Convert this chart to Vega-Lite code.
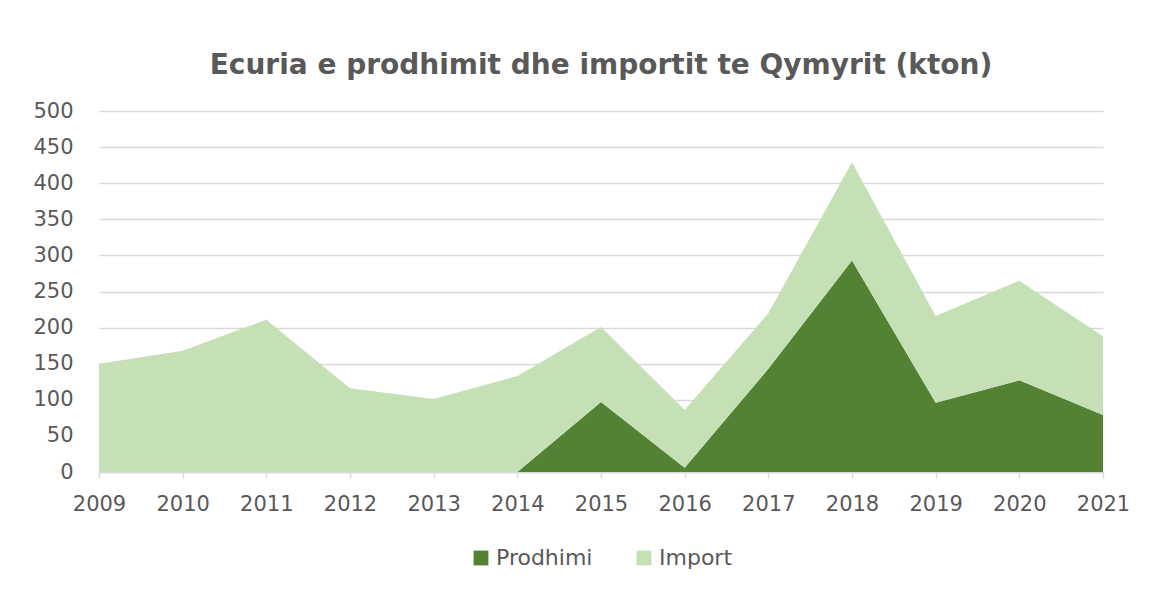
{
  "$schema": "https://vega.github.io/schema/vega-lite/v6.json",
  "width": 1004,
  "height": 361,
  "autosize": {"type": "none"},
  "padding": {"left": 99, "top": 111, "right": 49, "bottom": 117},
  "background": "white",
  "title": {
    "text": "Ecuria e prodhimit dhe importit te Qymyrit (kton)",
    "font": "DejaVu Sans",
    "fontSize": 28,
    "fontWeight": "bold",
    "color": "#595959",
    "anchor": "middle",
    "offset": 20
  },
  "data": {
    "values": [
      {"year": "2009", "series": "Prodhimi", "value": 0},
      {"year": "2010", "series": "Prodhimi", "value": 0},
      {"year": "2011", "series": "Prodhimi", "value": 0},
      {"year": "2012", "series": "Prodhimi", "value": 0},
      {"year": "2013", "series": "Prodhimi", "value": 0},
      {"year": "2014", "series": "Prodhimi", "value": 0},
      {"year": "2015", "series": "Prodhimi", "value": 97},
      {"year": "2016", "series": "Prodhimi", "value": 6},
      {"year": "2017", "series": "Prodhimi", "value": 143},
      {"year": "2018", "series": "Prodhimi", "value": 293},
      {"year": "2019", "series": "Prodhimi", "value": 96},
      {"year": "2020", "series": "Prodhimi", "value": 127},
      {"year": "2021", "series": "Prodhimi", "value": 79},
      {"year": "2009", "series": "Import", "value": 150},
      {"year": "2010", "series": "Import", "value": 168},
      {"year": "2011", "series": "Import", "value": 211},
      {"year": "2012", "series": "Import", "value": 116},
      {"year": "2013", "series": "Import", "value": 101},
      {"year": "2014", "series": "Import", "value": 133},
      {"year": "2015", "series": "Import", "value": 104},
      {"year": "2016", "series": "Import", "value": 80},
      {"year": "2017", "series": "Import", "value": 77},
      {"year": "2018", "series": "Import", "value": 136},
      {"year": "2019", "series": "Import", "value": 120},
      {"year": "2020", "series": "Import", "value": 138},
      {"year": "2021", "series": "Import", "value": 109}
    ]
  },
  "mark": {"type": "area", "opacity": 1},
  "encoding": {
    "x": {
      "field": "year",
      "type": "ordinal",
      "scale": {"type": "point", "padding": 0},
      "axis": {
        "title": null,
        "labelAngle": 0,
        "labelFont": "DejaVu Sans",
        "labelFontSize": 21,
        "labelColor": "#595959",
        "labelPadding": 15,
        "domainColor": "#D9D9D9",
        "domainWidth": 1.5,
        "tickColor": "#D9D9D9",
        "tickSize": 6,
        "tickWidth": 1.5,
        "grid": false
      }
    },
    "y": {
      "field": "value",
      "type": "quantitative",
      "stack": "zero",
      "scale": {"domain": [0, 500]},
      "axis": {
        "title": null,
        "values": [0, 50, 100, 150, 200, 250, 300, 350, 400, 450, 500],
        "labelFont": "DejaVu Sans",
        "labelFontSize": 21,
        "labelColor": "#595959",
        "labelPadding": 26,
        "domain": false,
        "ticks": false,
        "grid": true,
        "gridColor": "#D9D9D9",
        "gridWidth": 1.5
      }
    },
    "color": {
      "field": "series",
      "type": "nominal",
      "sort": ["Prodhimi", "Import"],
      "scale": {"domain": ["Prodhimi", "Import"], "range": ["#548235", "#C5E0B4"]},
      "legend": {
        "title": null,
        "orient": "bottom",
        "direction": "horizontal",
        "labelFont": "DejaVu Sans",
        "labelFontSize": 22,
        "labelColor": "#595959",
        "symbolType": "square",
        "symbolSize": 220,
        "symbolStrokeWidth": 0,
        "columnPadding": 40,
        "offset": 33
      }
    },
    "order": {"field": "series", "sort": "descending"}
  },
  "config": {
    "view": {"stroke": null},
    "legend": {"layout": {"bottom": {"anchor": "middle"}}}
  }
}
